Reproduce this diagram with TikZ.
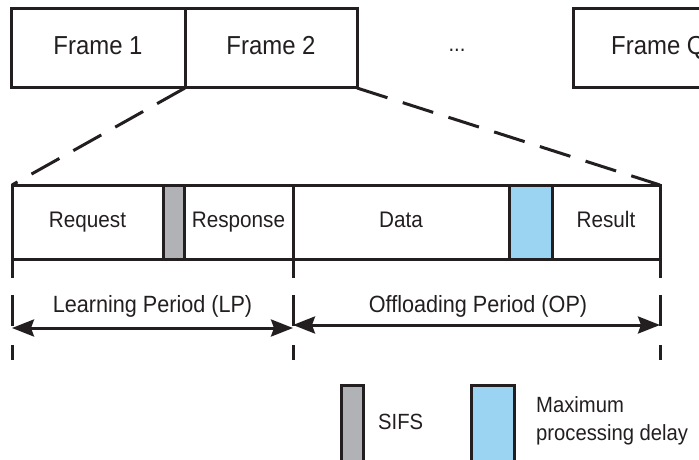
\documentclass[tikz,border=0pt]{standalone}
\usepackage{fontspec}
\setmainfont[FakeStretch=0.92]{Liberation Sans}
\usetikzlibrary{arrows.meta}
\definecolor{ink}{HTML}{231F20}
\definecolor{sifsgrey}{HTML}{B1B2B5}
\definecolor{delayblue}{HTML}{9BD3F3}
\begin{document}
\begin{tikzpicture}[x=1pt,y=-1pt,
  cell/.style={draw=ink, line width=3pt, rectangle, inner sep=0pt, outer sep=0pt},
  lbl/.style={text=ink, inner sep=0pt, anchor=base},
  zoomline/.style={draw=ink, line width=3pt, dash pattern=on 32pt off 16pt},
  tick/.style={draw=ink, line width=3pt, dash pattern=on 19pt off 17pt on 31pt off 19pt on 15pt off 100pt},
  dim/.style={draw=ink, line width=3pt, {Stealth[length=22pt,width=17pt,inset=3pt]}-{Stealth[length=22pt,width=17pt,inset=3pt]}}
]
\useasboundingbox (0,0) rectangle (699,460);
\clip (0,0) rectangle (699,460);
% top frames
\node[cell, minimum width=174pt, minimum height=79pt] (f1) at (98,48.5) {};
\node[cell, minimum width=172pt, minimum height=79pt] (f2) at (271,48.5) {};
\node[cell, minimum width=190pt, minimum height=79pt] (fq) at (668,48.5) {};
\node[lbl, font=\fontsize{26}{30}\selectfont] (f1t) at (98,54.5) {Frame 1};
\node[lbl, font=\fontsize{26}{30}\selectfont] (f2t) at (271,54.5) {Frame 2};
\node[lbl, font=\fontsize{26}{30}\selectfont, anchor=base west] (fqt) at (611,54.5) {Frame Q};
\node[lbl, font=\fontsize{22}{26}\selectfont] (dots) at (457,52) {...};
% second row
\node[cell, minimum width=151pt, minimum height=74pt] (req) at (87.5,222) {};
\node[cell, fill=sifsgrey, minimum width=21pt, minimum height=74pt] (sifs) at (173.5,222) {};
\node[cell, minimum width=109pt, minimum height=74pt] (resp) at (238.5,222) {};
\node[cell, minimum width=216pt, minimum height=74pt] (data) at (401,222) {};
\node[cell, fill=delayblue, minimum width=43pt, minimum height=74pt] (delay) at (530.5,222) {};
\node[cell, minimum width=108pt, minimum height=74pt] (res) at (606,222) {};
\node[lbl, font=\fontsize{22.5}{26}\selectfont] (reqt) at (87.5,227) {Request};
\node[lbl, font=\fontsize{22.5}{26}\selectfont] (respt) at (238.5,227) {Response};
\node[lbl, font=\fontsize{22.5}{26}\selectfont] (datat) at (401,227) {Data};
\node[lbl, font=\fontsize{22.5}{26}\selectfont] (rest) at (606,227) {Result};
% zoom lines
\draw[zoomline] (f2.south west) -- (req.north west);
\draw[zoomline] (f2.south east) -- (res.north east);
% ticks
\coordinate (t1) at (12,360);
\coordinate (t2) at (293,360);
\coordinate (t3) at (660,360);
\draw[tick] (req.south west) -- (t1);
\draw[tick] (resp.south east) -- (t2);
\draw[tick] (res.south east) -- (t3);
% dimension arrows
\coordinate (lpL) at (12,328);
\coordinate (lpR) at (293,328);
\coordinate (opL) at (293,325);
\coordinate (opR) at (660,325);
\draw[dim] (lpL) -- (lpR);
\draw[dim] (opL) -- (opR);
\node[lbl, font=\fontsize{23.5}{28}\selectfont] (lpt) at (152.5,312) {Learning Period (LP)};
\node[lbl, font=\fontsize{23.5}{28}\selectfont] (opt) at (478,312) {Offloading Period (OP)};
% legend
\node[cell, fill=sifsgrey, minimum width=22pt, minimum height=90pt] (lgsifs) at (352,430) {};
\node[cell, fill=delayblue, minimum width=43pt, minimum height=90pt] (lgdelay) at (492.5,430) {};
\node[lbl, font=\fontsize{22}{26}\selectfont, anchor=base west] (lgsifst) at (378,429) {SIFS};
\node[lbl, font=\fontsize{22}{26}\selectfont, anchor=base west] (lgdelayt1) at (536,412) {Maximum};
\node[lbl, font=\fontsize{22}{26}\selectfont, anchor=base west] (lgdelayt2) at (536,440) {processing delay};
\end{tikzpicture}
\end{document}
